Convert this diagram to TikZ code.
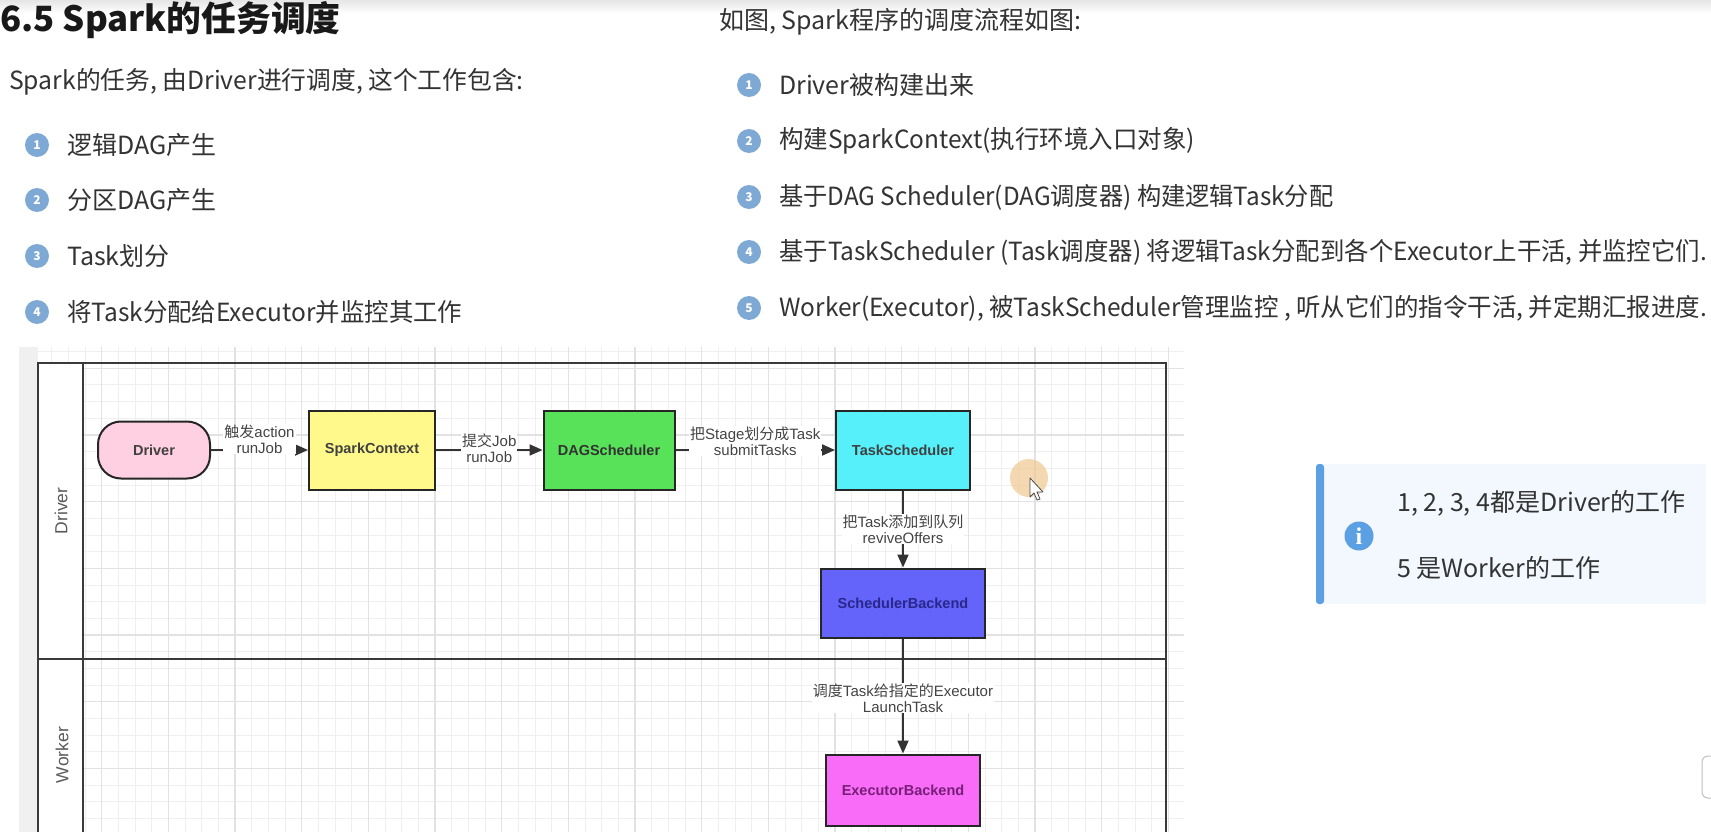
\documentclass[tikz,border=0pt]{standalone}
\usepackage{graphicx}
\usepackage{fontspec}
\setmainfont{Noto Sans CJK SC}
\newfontfamily\cjk{Noto Sans CJK SC}
\newfontfamily\arial{Liberation Sans}
\newfontfamily\serifi{Liberation Serif}
\usetikzlibrary{arrows.meta}
\definecolor{txt}{HTML}{333333}
\definecolor{numblue}{HTML}{7EA9D5}
\definecolor{infoblue}{HTML}{5BA0E2}
\definecolor{infobg}{HTML}{F3F8FE}
\definecolor{gridminor}{HTML}{EFEFEF}
\definecolor{gridmajor}{HTML}{E2E2E2}
\definecolor{framec}{HTML}{3A3A3A}
\definecolor{edgec}{HTML}{333333}
\definecolor{lanetxt}{HTML}{5A5A5A}
\definecolor{lbltxt}{HTML}{444444}
\definecolor{cdrv}{HTML}{FFD0E1}
\definecolor{csc}{HTML}{FFF98C}
\definecolor{cdag}{HTML}{58E25A}
\definecolor{cts}{HTML}{55F0FA}
\definecolor{csb}{HTML}{6464FA}
\definecolor{ceb}{HTML}{F86CF8}
\definecolor{cursorc}{HTML}{F0C890}
\newcommand{\zhs}[1]{{\cjk #1}}
\newcommand{\nrw}[2]{\scalebox{#1}[1]{#2}}
\begin{document}
\begin{tikzpicture}[x=1pt,y=-1pt,
  bodytext/.style={anchor=west,inner sep=0pt,text=txt,font=\fontsize{25}{30}\selectfont},
  numc/.style={circle,fill=numblue,text=white,minimum size=24pt,inner sep=0pt,font=\bfseries\fontsize{12}{12}\selectfont},
  proc/.style={draw=black!85,line width=2pt,inner sep=0pt,font=\arial\bfseries\fontsize{14.5}{17}\selectfont},
  elabel/.style={fill=white,inner sep=1pt,align=center,text=lbltxt,font=\arial\fontsize{15}{16}\selectfont},
  edge/.style={draw=edgec,line width=2pt,-{Triangle[length=13pt,width=11pt]}},
  lanelbl/.style={rotate=90,text=lanetxt,font=\arial\fontsize{17.5}{20}\selectfont,inner sep=0pt}
]
\useasboundingbox (0,0) rectangle (1711,832);
\fill[white] (0,0) rectangle (1711,832);
\shade[top color=black!10,bottom color=white] (0,0) rectangle (1711,13);

% ---------- title and lists ----------
\node[anchor=west,inner sep=0pt,text=black!90,font=\bfseries\fontsize{34.8}{40}\selectfont] (title) at (0,20) {6.5 Spark的任务调度};
\node[bodytext] (intro) at (9,82) {\nrw{0.99}{Spark的任务, 由Driver进行调度, 这个工作包含:}};
\node[numc] (ln1) at (37,145) {1};
\node[bodytext] (lt1) at (67,145) {逻辑DAG产生};
\node[numc] (ln2) at (37,200) {2};
\node[bodytext] (lt2) at (67,200) {分区DAG产生};
\node[numc] (ln3) at (37,256) {3};
\node[bodytext] (lt3) at (67,256) {Task划分};
\node[numc] (ln4) at (37,312) {4};
\node[bodytext] (lt4) at (67,312) {\nrw{0.978}{将Task分配给Executor并监控其工作}};

\node[bodytext] (rhead) at (719,22) {如图, Spark程序的调度流程如图:};
\node[numc] (rn1) at (749,85) {1};
\node[bodytext] (rt1) at (779,85) {Driver被构建出来};
\node[numc] (rn2) at (749,141) {2};
\node[bodytext] (rt2) at (779,141) {\nrw{0.979}{构建SparkContext(执行环境入口对象)}};
\node[numc] (rn3) at (749,197) {3};
\node[bodytext] (rt3) at (779,197) {\nrw{0.969}{基于DAG Scheduler(DAG调度器) 构建逻辑Task分配}};
\node[numc] (rn4) at (749,252) {4};
\node[bodytext] (rt4) at (779,252) {\nrw{0.977}{基于TaskScheduler (Task调度器) 将逻辑Task分配到各个Executor上干活, 并监控它们.}};
\node[numc] (rn5) at (749,308) {5};
\node[bodytext] (rt5) at (779,308) {\nrw{0.979}{Worker(Executor), 被TaskScheduler管理监控 , 听从它们的指令干活, 并定期汇报进度.}};

% ---------- info box ----------
\fill[infobg] (1316,464) rectangle (1706,604);
\fill[infoblue,rounded corners=3pt] (1316,464) rectangle (1324,604);
\node[circle,fill=infoblue,minimum size=29pt,inner sep=0pt,text=white,font=\serifi\bfseries\fontsize{24}{24}\selectfont] (infoicon) at (1359,536) {i};
\node[bodytext] (info1) at (1397,503) {1, 2, 3, 4都是Driver的工作};
\node[bodytext] (info2) at (1397,568) {5 是Worker的工作};

% ---------- diagram canvas ----------
\begin{scope}
\clip (19,347) rectangle (1184,832);
\fill[white] (19,347) rectangle (1184,832);
\foreach \k in {-5,...,65} {
  \draw[gridminor,line width=1pt] ({101.667+16.667*\k},347) -- ({101.667+16.667*\k},832);
}
\foreach \k in {-14,...,16} {
  \draw[gridminor,line width=1pt] (19,{568.333+16.667*\k}) -- (1184,{568.333+16.667*\k});
}
\foreach \k in {-2,...,16} {
  \draw[gridmajor,line width=1.2pt] ({101.667+66.667*\k},347) -- ({101.667+66.667*\k},832);
}
\foreach \k in {-4,...,4} {
  \draw[gridmajor,line width=1.2pt] (19,{568.333+66.667*\k}) -- (1184,{568.333+66.667*\k});
}
\fill[black!6] (19,347) rectangle (38,832);
\end{scope}
\fill[white] (38,363) rectangle (83,832);
% swimlane frame
\draw[framec,line width=2.5pt] (38,840) -- (38,363) -- (1166,363) -- (1166,840);
\draw[framec,line width=2.5pt] (83,363) -- (83,840);
\draw[framec,line width=2.5pt] (38,659) -- (1166,659);
\node[lanelbl] (laneD) at (61,511) {Driver};
\node[lanelbl] (laneW) at (62,755) {Worker};

% ---------- nodes ----------
\node[proc,fill=cdrv,text=black!75,rounded corners=23pt,minimum width=112pt,minimum height=57pt] (drv) at (154,450) {Driver};
\node[proc,fill=csc,text=black!75,minimum width=126pt,minimum height=79pt] (sc) at (372,450) {SparkContext};
\node[proc,fill=cdag,text=black!80,minimum width=131pt,minimum height=79pt] (dag) at (609,450) {DAGScheduler};
\node[proc,fill=cts,text=black!75,minimum width=134pt,minimum height=79pt] (ts) at (903,450) {TaskScheduler};
\node[proc,fill=csb,text={rgb,255:red,40;green,40;blue,140},minimum width=164pt,minimum height=69pt] (sb) at (903,603) {SchedulerBackend};
\node[proc,fill=ceb,text={rgb,255:red,120;green,30;blue,120},minimum width=154pt,minimum height=71pt] (eb) at (903,790) {ExecutorBackend};

% ---------- connectors ----------
\draw[edge] (drv) -- node[elabel,yshift=11pt] (l1) {\zhs{触发}action\\runJob} (sc);
\draw[edge] (sc) -- node[elabel,yshift=1.5pt] (l2) {\zhs{提交}Job\\runJob} (dag);
\draw[edge] (dag) -- node[elabel,yshift=9pt] (l3) {\zhs{把}Stage\zhs{划分成}Task\\submitTasks} (ts);
\draw[edge] (ts) -- node[elabel] (l4) {\zhs{把}Task\zhs{添加到队列}\\reviveOffers} (sb);
\draw[edge] (sb) -- node[elabel,yshift=-2pt] (l5) {\zhs{调度}Task\zhs{给指定的}Executor\\LaunchTask} (eb);

% ---------- screen-recording artefacts ----------
\fill[cursorc,opacity=0.7] (1029,478) circle (19);
\draw[black!70,fill=white,line width=0.8pt,line join=round] (1030,478) -- (1030,497) -- (1034,493) -- (1037,500) -- (1040,499) -- (1037,492) -- (1043,492) -- cycle;
\draw[black!25,fill=white,rounded corners=6pt,line width=1pt] (1702,756) rectangle (1725,798);
\end{tikzpicture}
\end{document}
